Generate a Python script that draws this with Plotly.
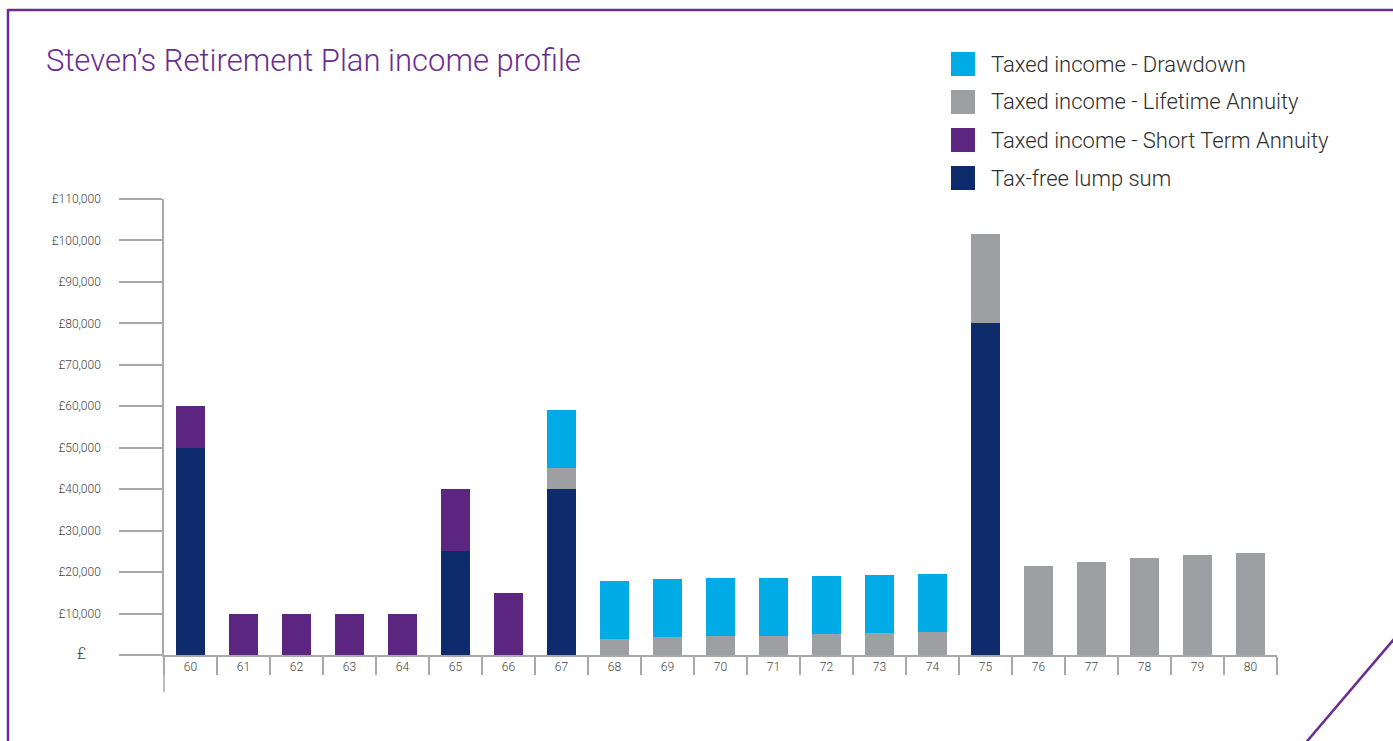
import plotly.graph_objects as go

# ---------------- data ----------------
ages = [str(a) for a in range(60, 81)]

lump_sum = [50000, 0, 0, 0, 0, 25000, 0, 40000, 0, 0, 0, 0, 0, 0, 0, 80000, 0, 0, 0, 0, 0]
short_term = [10000, 10000, 10000, 10000, 10000, 15000, 15000, 0, 0, 0, 0, 0, 0, 0, 0, 0, 0, 0, 0, 0, 0]
lifetime = [0, 0, 0, 0, 0, 0, 0, 5200, 3900, 4300, 4600, 4600, 5100, 5300, 5500,
            21500, 21500, 22400, 23400, 24100, 24600]
drawdown = [0, 0, 0, 0, 0, 0, 0, 14000, 14000, 14000, 14000, 14000, 14000, 14000, 14000,
            0, 0, 0, 0, 0, 0]

series_names = ["Tax-free lump sum", "Taxed income - Short Term Annuity",
                "Taxed income - Lifetime Annuity", "Taxed income - Drawdown"]
series_values = [lump_sum, short_term, lifetime, drawdown]
series_colors = ["#0E2B6B", "#5C2680", "#9E9FA3", "#00ABE6"]

y_tick_vals = list(range(0, 110001, 10000))
y_tick_text = ["<span style='font-size:16px'>£</span>\u00a0\u00a0\u00a0\u00a0\u00a0"] + \
              [f"£{v:,}" for v in y_tick_vals[1:]]

title_text = "Steven’s Retirement Plan income profile"

# ---------------- geometry helpers (pixels -> paper) ----------------
W, H = 1393, 741
L, R, T, B = 164, 1277, 199, 655
PW, PH = R - L, B - T


def px(x):
    return (x - L) / PW


def py(y):
    return (B - y) / PH


AXIS_GREY = "#A8A8A8"
FRAME = "#6A2C91"
FONT = "Roboto"

fig = go.Figure()
for name, vals, col in zip(series_names, series_values, series_colors):
    fig.add_trace(go.Bar(x=ages, y=vals, name=name, marker=dict(color=col, line=dict(width=0)),
                         showlegend=False))

shapes = []
annotations = []

# manual legend (reverse of stack order)
for i, (name, col) in enumerate(zip(series_names[::-1], series_colors[::-1])):
    cy = 64 + 38 * i
    shapes.append(dict(type="rect", xref="paper", yref="paper",
                       x0=px(951), x1=px(975), y0=py(cy + 12), y1=py(cy - 12),
                       fillcolor=col, line=dict(width=0)))
    annotations.append(dict(xref="paper", yref="paper", x=px(989), y=py(cy), text=name,
                            showarrow=False, xanchor="left", yanchor="middle",
                            font=dict(family=FONT, size=22, color="#2E2E2E", weight=300)))

# y-axis extension below baseline
shapes.append(dict(type="line", xref="paper", yref="paper", x0=0, x1=0, y0=0, y1=py(692),
                   line=dict(color=AXIS_GREY, width=1.5)))

# purple frame
shapes.append(dict(type="line", xref="paper", yref="paper", x0=px(8), x1=px(W + 5), y0=py(10), y1=py(10),
                   line=dict(color=FRAME, width=2.5)))
shapes.append(dict(type="line", xref="paper", yref="paper", x0=px(8), x1=px(8), y0=py(9), y1=py(H + 5),
                   line=dict(color=FRAME, width=2.5)))
shapes.append(dict(type="line", xref="paper", yref="paper", x0=px(1303), x1=px(1400), y0=py(746), y1=py(632),
                   line=dict(color=FRAME, width=2.5)))

fig.update_layout(
    width=W, height=H,
    margin=dict(l=L, r=W - R, t=T, b=H - B, autoexpand=False),
    paper_bgcolor="white", plot_bgcolor="white",
    barmode="stack", bargap=0.47,
    title=dict(text=title_text, xref="container", yref="container", x=46 / W, xanchor="left",
               y=1 - 60 / H, yanchor="middle",
               font=dict(family=FONT, size=31, color="#6B2D90", weight=300)),
    xaxis=dict(type="category", showgrid=False, showline=True, linecolor=AXIS_GREY, linewidth=1.5,
               ticks="outside", tickson="boundaries", ticklen=18, tickcolor=AXIS_GREY, tickwidth=1.5,
               ticklabelstandoff=0,
               tickfont=dict(family=FONT, size=12, color="#444444", weight=300)),
    yaxis=dict(range=[0, 110000], showgrid=False, zeroline=False, showline=True, linecolor=AXIS_GREY,
               linewidth=1.5, ticks="outside", ticklen=43, tickcolor=AXIS_GREY, tickwidth=1.5,
               tickvals=y_tick_vals, ticktext=y_tick_text, ticklabelstandoff=16,
               tickfont=dict(family=FONT, size=12, color="#444444", weight=300)),
    shapes=shapes, annotations=annotations,
)

fig.write_html("out.html")
